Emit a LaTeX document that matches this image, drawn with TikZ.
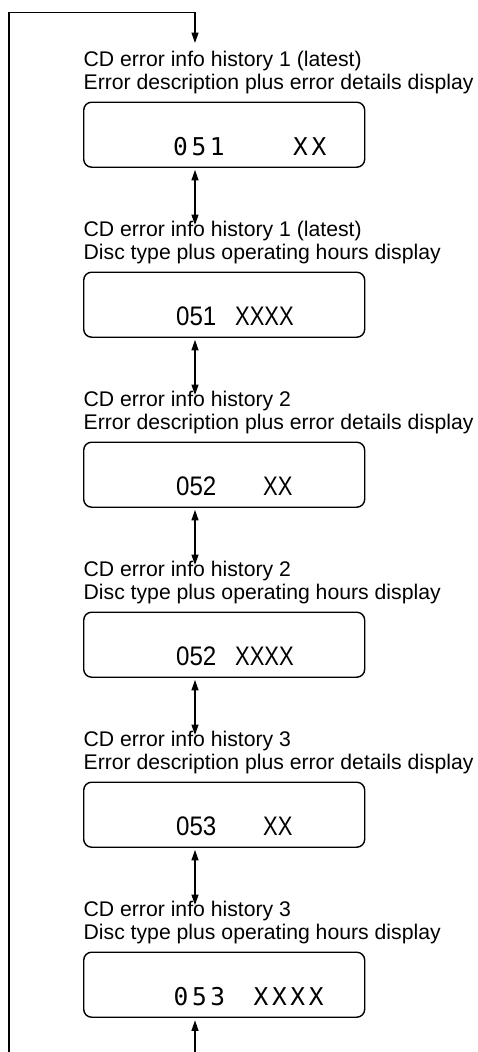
\documentclass[tikz,border=0pt]{standalone}
\usepackage{fontspec}
\setmainfont{Liberation Sans}
\newfontfamily\labfont{Liberation Sans}
\newfontfamily\thinlcdfont[LetterSpace=15]{DejaVu Sans Mono}
\newfontfamily\numlcdfont[FakeStretch=0.9]{Liberation Sans}
\newfontfamily\xlcdfont[FakeStretch=0.82]{Liberation Sans}
\usetikzlibrary{arrows.meta}
\begin{document}
\begin{tikzpicture}[x=1pt,y=-1pt,line width=1.3pt,
 disp/.style={draw, line width=1.4pt, rounded corners=8pt, minimum width=281pt, minimum height=65pt, anchor=north west, inner sep=0pt},
 lab/.style={anchor=base west, inner sep=0pt, font=\labfont\fontsize{21.2}{24}\selectfont},
 thinlcd/.style={anchor=base west, inner sep=0pt, font=\thinlcdfont\fontsize{24.5}{27}\selectfont},
 cnum/.style={anchor=base west, inner sep=0pt, font=\numlcdfont\fontsize{26.8}{30}\selectfont},
 cx/.style={anchor=base west, inner sep=0pt, font=\xlcdfont\fontsize{26.8}{30}\selectfont},
 arr/.style={-{Triangle[length=10.5pt,width=7pt]}},
 darr/.style={{Triangle[length=10.5pt,width=7pt]}-{Triangle[length=10.5pt,width=7pt]}, shorten <=2pt},
]
\useasboundingbox[fill=white] (0,0) rectangle (478,1052);

% box 1
\node[lab] (l1a) at (83,66) {CD error info history 1 (latest)};
\node[lab] (l1b) at (83,89.5) {Error description plus error details display};
\node[disp] (b1) at (83,101.5) {};
\node[thinlcd] (n1) at (172.5,155.5) {051};
\node[thinlcd] (x1) at (292.5,155.5) {XX};

% box 2
\node[lab] (l2a) at (83,236) {CD error info history 1 (latest)};
\node[lab] (l2b) at (83,259.5) {Disc type plus operating hours display};
\node[disp] (b2) at (83,271.5) {};
\node[cnum] (n2) at (175.5,325.5) {051};
\node[cx] (x2) at (234.5,325.5) {XXXX};

% box 3
\node[lab] (l3a) at (83,406) {CD error info history 2};
\node[lab] (l3b) at (83,429.5) {Error description plus error details display};
\node[disp] (b3) at (83,441.5) {};
\node[cnum] (n3) at (175.5,495.5) {052};
\node[cx] (x3) at (262.5,495.5) {XX};

% box 4
\node[lab] (l4a) at (83,576) {CD error info history 2};
\node[lab] (l4b) at (83,599.5) {Disc type plus operating hours display};
\node[disp] (b4) at (83,611.5) {};
\node[cnum] (n4) at (175.5,665.5) {052};
\node[cx] (x4) at (234.5,665.5) {XXXX};

% box 5
\node[lab] (l5a) at (83,746) {CD error info history 3};
\node[lab] (l5b) at (83,769.5) {Error description plus error details display};
\node[disp] (b5) at (83,781.5) {};
\node[cnum] (n5) at (175.5,835.5) {053};
\node[cx] (x5) at (262.5,835.5) {XX};

% box 6
\node[lab] (l6a) at (83,916) {CD error info history 3};
\node[lab] (l6b) at (83,939.5) {Disc type plus operating hours display};
\node[disp] (b6) at (83,951.5) {};
\node[thinlcd] (n6) at (173,1005.5) {053};
\node[thinlcd] (x6) at (253,1005.5) {XXXX};

% connector targets
\coordinate (t1) at (195,43);
\coordinate (t2) at (195,225);
\coordinate (t3) at (195,395);
\coordinate (t4) at (195,565);
\coordinate (t5) at (195,735);
\coordinate (t6) at (195,905);
\coordinate (lb) at (9,1052);
\coordinate (lt) at (9,12.3);
\coordinate (tr) at (195,12.3);
\coordinate (bb) at (195,1052);

\draw[arr] (lb) -- (lt) -- (tr) -- (t1);
\draw[darr] (b1.south -| t2) -- (t2);
\draw[darr] (b2.south -| t3) -- (t3);
\draw[darr] (b3.south -| t4) -- (t4);
\draw[darr] (b4.south -| t5) -- (t5);
\draw[darr] (b5.south -| t6) -- (t6);
\draw[arr, shorten >=2.5pt] (bb) -- (b6.south -| bb);
\end{tikzpicture}
\end{document}
